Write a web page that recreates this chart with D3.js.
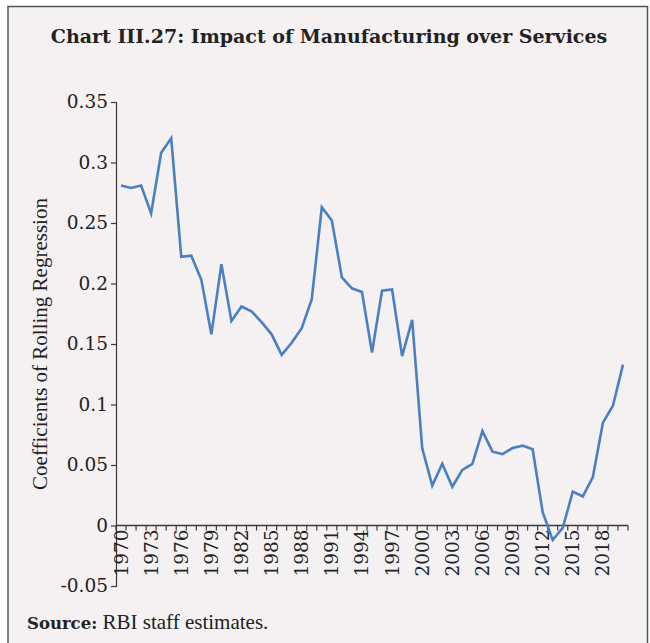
<!DOCTYPE html>
<html>
<head>
<meta charset="utf-8">
<script src="https://cdn.jsdelivr.net/npm/d3@7"></script>
<style>
  html, body { margin: 0; padding: 0; background: #ffffff; }
  svg { display: block; }
</style>
</head>
<body>
<svg id="chart" width="650" height="643"></svg>
<script>
// Years of the rolling-regression window
const years = d3.range(1970, 2021);

// Coefficient of manufacturing on services, one value per year
const coefficients = [
  0.281, 0.279, 0.281, 0.258, 0.308, 0.320, 0.222, 0.223, 0.203, 0.158,
  0.216, 0.169, 0.181, 0.177, 0.168, 0.158, 0.141, 0.151, 0.163, 0.187,
  0.263, 0.252, 0.205, 0.196, 0.193, 0.143, 0.194, 0.195, 0.140, 0.170,
  0.064, 0.033, 0.051, 0.032, 0.046, 0.051, 0.078, 0.061, 0.059, 0.064,
  0.066, 0.063, 0.011, -0.012, -0.002, 0.028, 0.024, 0.040, 0.085, 0.099,
  0.133
];

// Axis ticks
const yTicks = [-0.05, 0, 0.05, 0.1, 0.15, 0.2, 0.25, 0.3, 0.35];
const xTickLabels = d3.range(1970, 2019, 3);

const svg = d3.select("#chart");

// Panel frame
svg.append("rect")
  .attr("x", 8).attr("y", 6.5)
  .attr("width", 639.5).attr("height", 640)
  .attr("fill", "#f5f1f2")
  .attr("stroke", "#555555")
  .attr("stroke-width", 1.5);

// Title
svg.append("text")
  .attr("x", 329).attr("y", 43)
  .attr("text-anchor", "middle")
  .attr("font-family", "'DejaVu Serif', serif")
  .attr("font-weight", "bold")
  .attr("font-size", 19)
  .attr("fill", "#222222")
  .text("Chart III.27: Impact of Manufacturing over Services");

const plot = { left: 116, right: 628, top: 102, bottom: 586 };

const x = d3.scaleBand()
  .domain(years)
  .range([plot.left, plot.right])
  .paddingInner(0).paddingOuter(0);

const y = d3.scaleLinear()
  .domain([-0.05, 0.35])
  .range([plot.bottom, plot.top]);

const axisColor = "#3a3a3a";
const serif = "'DejaVu Serif', serif";

// Y axis (plain hyphen for negatives)
const yAxis = svg.append("g")
  .attr("transform", `translate(${plot.left},0)`)
  .call(d3.axisLeft(y)
    .tickValues(yTicks)
    .tickSize(5)
    .tickPadding(3)
    .tickFormat(d => String(+d.toFixed(2))));
yAxis.select(".domain").attr("stroke", axisColor).attr("stroke-width", 1.2);
yAxis.selectAll(".tick line").attr("stroke", axisColor).attr("stroke-width", 1.2);
yAxis.selectAll(".tick text")
  .attr("font-family", serif)
  .attr("font-size", 18.5)
  .attr("fill", "#222222");

// X axis along zero, ticks between categories
const boundaries = years.map(d => x(d)).concat([x(years[years.length - 1]) + x.bandwidth()]);
const xAxisG = svg.append("g");
xAxisG.append("line")
  .attr("x1", plot.left).attr("x2", plot.right)
  .attr("y1", y(0)).attr("y2", y(0))
  .attr("stroke", axisColor).attr("stroke-width", 1.5);
xAxisG.selectAll("line.tick")
  .data(boundaries)
  .join("line")
  .attr("class", "tick")
  .attr("x1", d => d).attr("x2", d => d)
  .attr("y1", y(0)).attr("y2", y(0) + 5)
  .attr("stroke", axisColor).attr("stroke-width", 1.2);
xAxisG.selectAll("text")
  .data(xTickLabels)
  .join("text")
  .attr("transform", d => `translate(${x(d) + x.bandwidth() / 2 + 6.5},${y(0) + 4}) rotate(-90)`)
  .attr("text-anchor", "end")
  .attr("font-family", serif)
  .attr("font-size", 18.5)
  .attr("fill", "#222222")
  .text(d => d);

// Y axis title
svg.append("text")
  .attr("transform", "translate(47,344) rotate(-90)")
  .attr("text-anchor", "middle")
  .attr("font-family", "'Liberation Serif', serif")
  .attr("font-size", 21)
  .attr("fill", "#222222")
  .text("Coefficients of Rolling Regression");

// Coefficient line
const line = d3.line()
  .x((d, i) => x(years[i]) + x.bandwidth() / 2)
  .y(d => y(d));

svg.append("path")
  .datum(coefficients)
  .attr("d", line)
  .attr("fill", "none")
  .attr("stroke", "#4a7fc1")
  .attr("stroke-width", 2.6)
  .attr("stroke-linejoin", "miter");

// Source note
const src = svg.append("text")
  .attr("x", 27).attr("y", 629)
  .attr("fill", "#222222");
src.append("tspan")
  .attr("font-family", serif)
  .attr("font-weight", "bold")
  .attr("font-size", 16.5)
  .text("Source:");
src.append("tspan")
  .attr("font-family", "'Liberation Serif', serif")
  .attr("font-size", 21)
  .text(" RBI staff estimates.");
</script>
</body>
</html>
